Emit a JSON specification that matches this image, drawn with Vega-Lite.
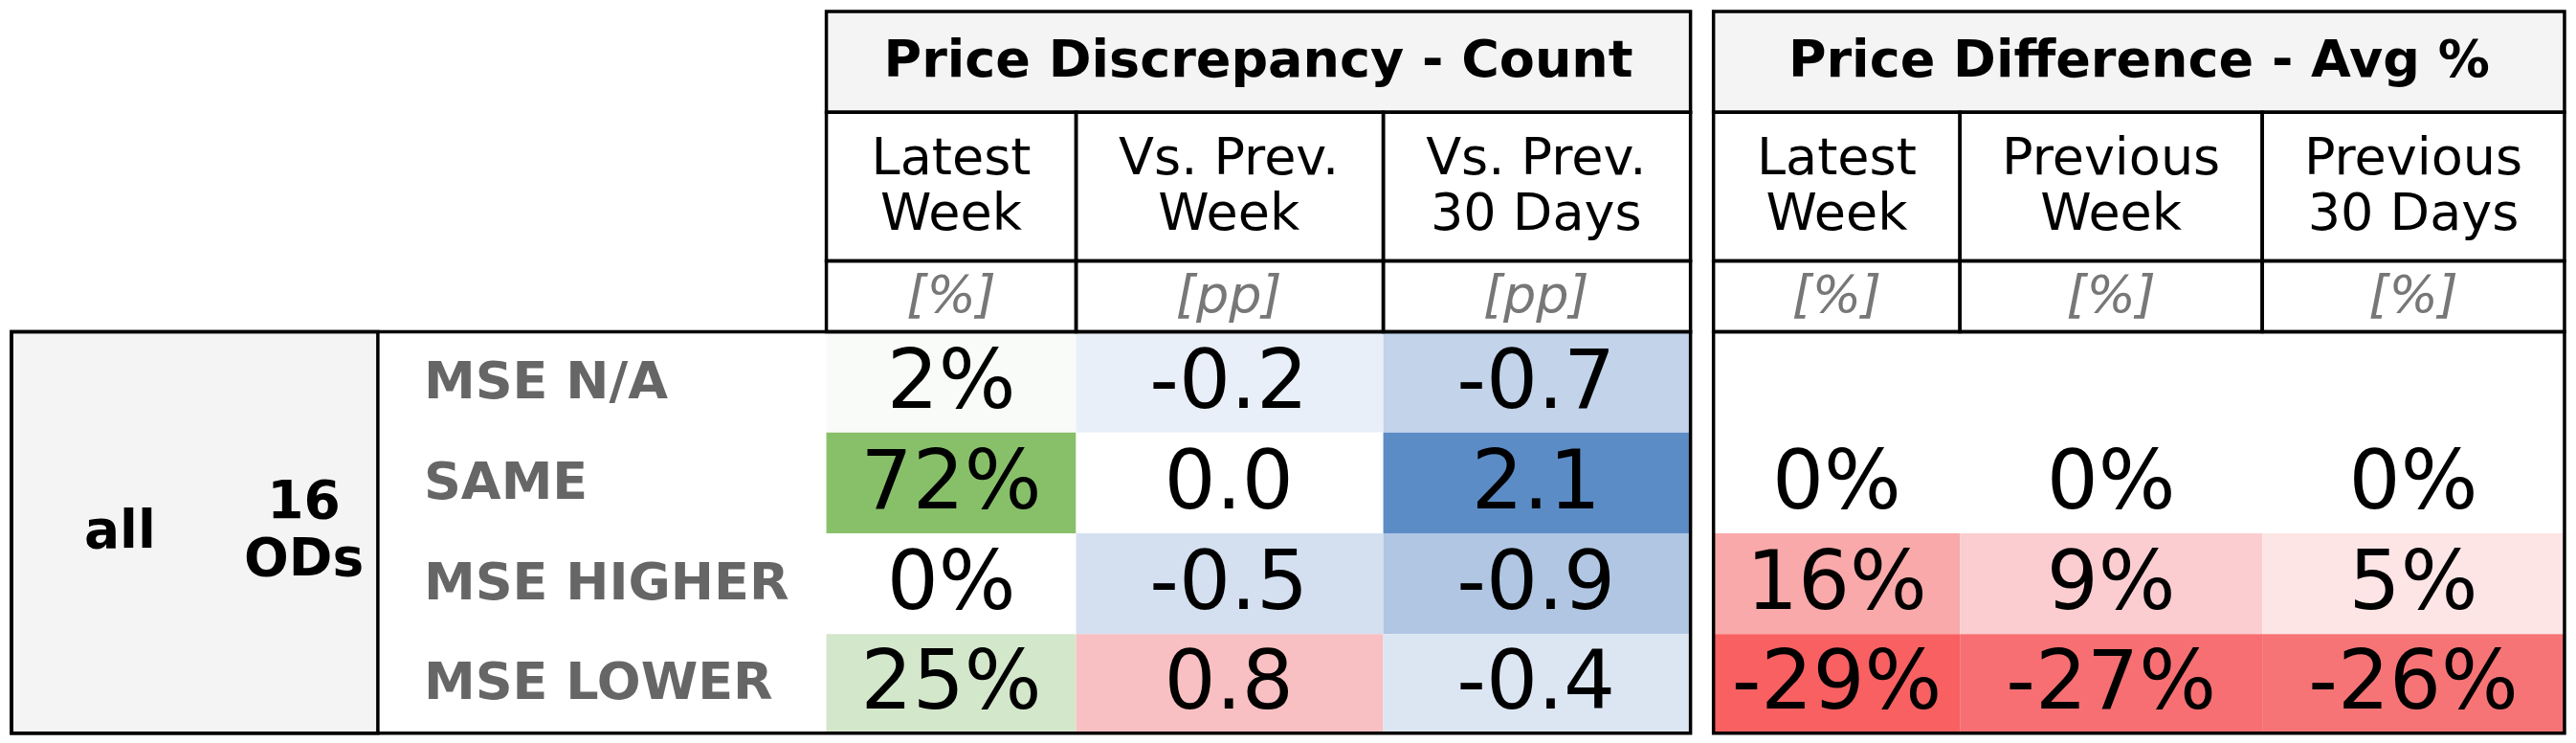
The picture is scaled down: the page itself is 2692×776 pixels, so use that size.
{
"$schema":"https://vega.github.io/schema/vega-lite/v6.json",
"width":2692,"height":776,"autosize":{"type":"fit","contains":"padding"},"padding":0,
"background":"white","config":{"view":{"stroke":null},"font":"DejaVu Sans"},
"datasets":{
"fills":[
{"x":503,"x2":1029,"y":7,"y2":68,"c":"#f4f4f4"},
{"x":1043,"x2":1561,"y":7,"y2":68,"c":"#f4f4f4"},
{"x":7,"x2":230,"y":201,"y2":444,"c":"#f4f4f4"},
{"x":503,"x2":655,"y":201,"y2":262,"c":"#f8fbf7"},
{"x":503,"x2":655,"y":262,"y2":323,"c":"#88c06a"},
{"x":503,"x2":655,"y":323,"y2":384,"c":"#ffffff"},
{"x":503,"x2":655,"y":384,"y2":444,"c":"#d3e7cb"},
{"x":655,"x2":842,"y":201,"y2":262,"c":"#e9eff8"},
{"x":655,"x2":842,"y":262,"y2":323,"c":"#ffffff"},
{"x":655,"x2":842,"y":323,"y2":384,"c":"#d4e0f0"},
{"x":655,"x2":842,"y":384,"y2":444,"c":"#f8c0c3"},
{"x":842,"x2":1029,"y":201,"y2":262,"c":"#c2d3ea"},
{"x":842,"x2":1029,"y":262,"y2":323,"c":"#5b8cc6"},
{"x":842,"x2":1029,"y":323,"y2":384,"c":"#b0c6e3"},
{"x":842,"x2":1029,"y":384,"y2":444,"c":"#dce6f3"},
{"x":1043,"x2":1193,"y":323,"y2":384,"c":"#f9a9aa"},
{"x":1193,"x2":1377,"y":323,"y2":384,"c":"#fbcdd0"},
{"x":1377,"x2":1561,"y":323,"y2":384,"c":"#fde5e6"},
{"x":1043,"x2":1193,"y":384,"y2":444,"c":"#f86062"},
{"x":1193,"x2":1377,"y":384,"y2":444,"c":"#f76f72"},
{"x":1377,"x2":1561,"y":384,"y2":444,"c":"#f77476"}
],
"boxes":[
{"x":503,"x2":1029,"y":7,"y2":68},{"x":1043,"x2":1561,"y":7,"y2":68},
{"x":503,"x2":655,"y":68,"y2":158},{"x":655,"x2":842,"y":68,"y2":158},{"x":842,"x2":1029,"y":68,"y2":158},
{"x":1043,"x2":1193,"y":68,"y2":158},{"x":1193,"x2":1377,"y":68,"y2":158},{"x":1377,"x2":1561,"y":68,"y2":158},
{"x":503,"x2":655,"y":158,"y2":201},{"x":655,"x2":842,"y":158,"y2":201},{"x":842,"x2":1029,"y":158,"y2":201},
{"x":1043,"x2":1193,"y":158,"y2":201},{"x":1193,"x2":1377,"y":158,"y2":201},{"x":1377,"x2":1561,"y":158,"y2":201},
{"x":7,"x2":1029,"y":201,"y2":444},{"x":7,"x2":230,"y":201,"y2":444},{"x":1043,"x2":1561,"y":201,"y2":444}
],
"nums":[
{"x":579,"y":232,"t":"2%"},{"x":579,"y":293,"t":"72%"},{"x":579,"y":354,"t":"0%"},{"x":579,"y":414,"t":"25%"},
{"x":748,"y":232,"t":"-0.2"},{"x":748,"y":293,"t":"0.0"},{"x":748,"y":354,"t":"-0.5"},{"x":748,"y":414,"t":"0.8"},
{"x":935,"y":232,"t":"-0.7"},{"x":935,"y":293,"t":"2.1"},{"x":935,"y":354,"t":"-0.9"},{"x":935,"y":414,"t":"-0.4"},
{"x":1118,"y":293,"t":"0%"},{"x":1118,"y":354,"t":"16%"},{"x":1118,"y":414,"t":"-29%"},
{"x":1285,"y":293,"t":"0%"},{"x":1285,"y":354,"t":"9%"},{"x":1285,"y":414,"t":"-27%"},
{"x":1469,"y":293,"t":"0%"},{"x":1469,"y":354,"t":"5%"},{"x":1469,"y":414,"t":"-26%"}
],
"heads":[{"x":766,"y":37,"t":"Price Discrepancy - Count"},{"x":1302,"y":37,"t":"Price Difference - Avg %"}],
"subs":[
{"x":579,"y":96,"t":"Latest\nWeek"},{"x":748,"y":96,"t":"Vs. Prev.\nWeek"},{"x":935,"y":96,"t":"Vs. Prev.\n30 Days"},
{"x":1118,"y":96,"t":"Latest\nWeek"},{"x":1285,"y":96,"t":"Previous\nWeek"},{"x":1469,"y":96,"t":"Previous\n 30 Days"}
],
"units":[
{"x":579,"y":180,"t":"[%]"},{"x":748,"y":180,"t":"[pp]"},{"x":935,"y":180,"t":"[pp]"},
{"x":1118,"y":180,"t":"[%]"},{"x":1285,"y":180,"t":"[%]"},{"x":1469,"y":180,"t":"[%]"}
],
"rows":[{"x":258,"y":232,"t":"MSE N/A"},{"x":258,"y":293,"t":"SAME"},{"x":258,"y":354,"t":"MSE HIGHER"},{"x":258,"y":414,"t":"MSE LOWER"}],
"left":[{"x":73,"y":322,"t":"all"},{"x":185,"y":304,"t":"16\nODs"}]
},
"encoding":{
"x":{"field":"x","type":"quantitative","scale":{"domain":[0,1568],"nice":false,"zero":false},"axis":null},
"y":{"field":"y","type":"quantitative","scale":{"domain":[0,450],"nice":false,"zero":false,"reverse":true},"axis":null}
},
"layer":[
{"data":{"name":"fills"},"mark":{"type":"rect","strokeWidth":0},"encoding":{"x2":{"field":"x2"},"y2":{"field":"y2"},"color":{"field":"c","type":"nominal","scale":null}}},
{"data":{"name":"boxes"},"mark":{"type":"rect","fill":null,"stroke":"black","strokeWidth":3.5},"encoding":{"x2":{"field":"x2"},"y2":{"field":"y2"}}},
{"data":{"name":"nums"},"mark":{"type":"text","fontSize":85,"baseline":"middle","align":"center","color":"black"},"encoding":{"text":{"field":"t"}}},
{"data":{"name":"heads"},"mark":{"type":"text","fontSize":54,"fontWeight":"bold","baseline":"middle","align":"center","color":"black"},"encoding":{"text":{"field":"t"}}},
{"data":{"name":"subs"},"mark":{"type":"text","fontSize":54,"baseline":"middle","align":"center","color":"black","lineBreak":"\n","lineHeight":58},"encoding":{"text":{"field":"t"}}},
{"data":{"name":"units"},"mark":{"type":"text","fontSize":54,"fontStyle":"italic","baseline":"middle","align":"center","color":"#777777"},"encoding":{"text":{"field":"t"}}},
{"data":{"name":"rows"},"mark":{"type":"text","fontSize":54,"fontWeight":"bold","baseline":"middle","align":"left","color":"#666666"},"encoding":{"text":{"field":"t"}}},
{"data":{"name":"left"},"mark":{"type":"text","fontSize":55,"fontWeight":"bold","baseline":"middle","align":"center","color":"black","lineBreak":"\n","lineHeight":60},"encoding":{"text":{"field":"t"}}}
]
}
